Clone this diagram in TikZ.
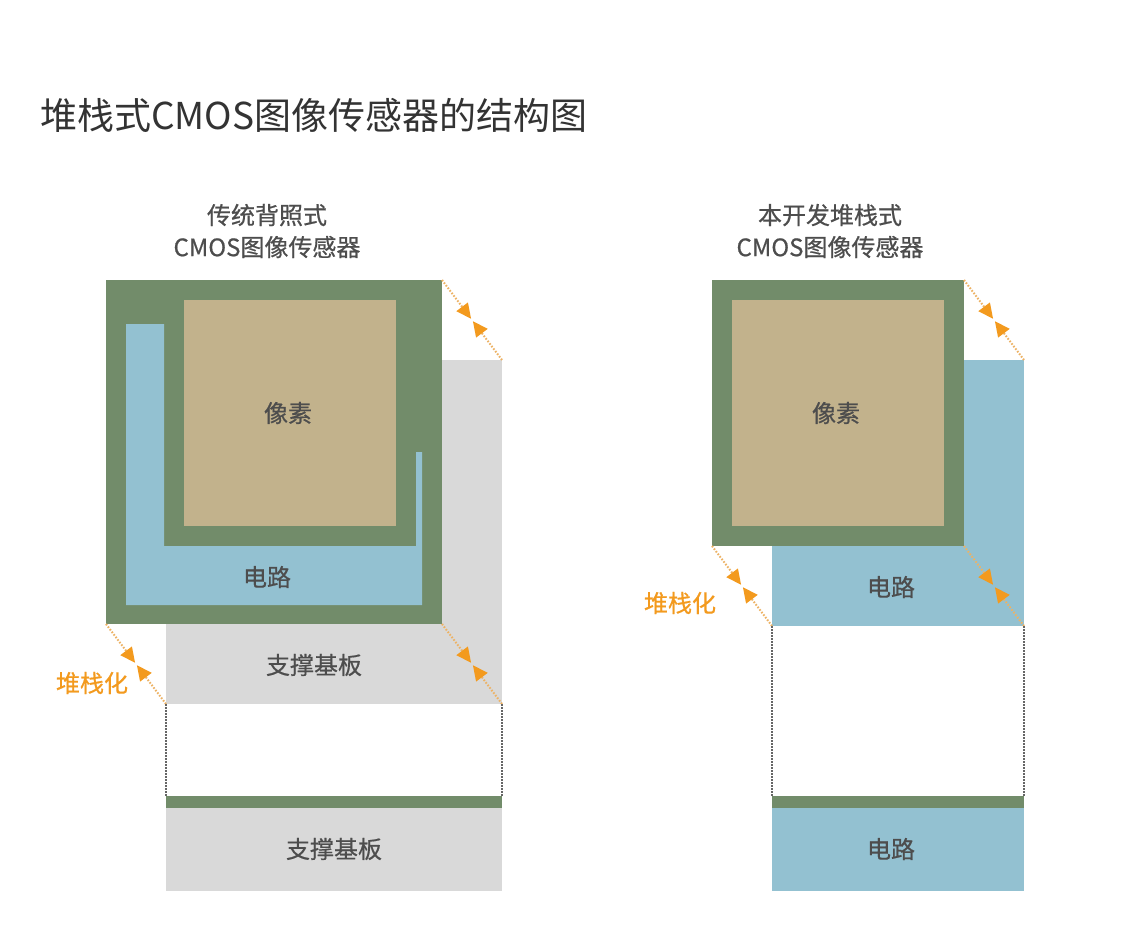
\documentclass[tikz,border=0pt]{standalone}
\usepackage{fontspec}
\setmainfont{Noto Sans CJK SC}
\newfontfamily\cjk{Noto Sans CJK SC}
\newfontfamily\cjkm{Noto Sans CJK SC}[FakeBold=0.6]
\usetikzlibrary{arrows.meta,calc}
\definecolor{cgreen}{HTML}{728C6A}
\definecolor{ctan}{HTML}{C2B28C}
\definecolor{cblue}{HTML}{93C1D1}
\definecolor{cgray}{HTML}{D9D9D9}
\definecolor{corange}{HTML}{F39A1E}
\definecolor{cline}{HTML}{EDB264}
\definecolor{ctext}{HTML}{4D4D4D}
\definecolor{ctitle}{HTML}{333333}
\definecolor{cdot}{HTML}{666666}
\tikzset{
  lbl/.style={font=\cjkm\fontsize{24}{28}\selectfont, text=ctext, inner sep=0pt},
  head/.style={font=\cjkm\fontsize{24}{32}\selectfont, text=ctext, align=center, inner sep=0pt},
  stk/.style={font=\cjkm\fontsize{24}{28}\selectfont, text=corange, inner sep=0pt},
  half/.style={draw=cline, line width=2pt, dash pattern=on 1.6pt off 1.6pt,
    -{Triangle[length=15pt,width=14pt,fill=corange,color=corange]}, shorten >=1.5pt},
  vdot/.style={draw=cdot, line width=2pt, dash pattern=on 1.5pt off 1.5pt},
}
\newcommand{\stackarrow}[2]{%
  \draw[half] (#1) -- ($(#1)!0.5!(#2)$);
  \draw[half] (#2) -- ($(#1)!0.5!(#2)$);}
\begin{document}
\begin{tikzpicture}[x=1pt,y=-1pt]
\useasboundingbox[fill=white] (0,0) rectangle (1144,936);
% title
\node[anchor=west, font=\cjk\fontsize{37}{42}\selectfont, text=ctitle, inner sep=0pt] (title) at (40,115) {堆栈式CMOS图像传感器的结构图};

% ===== left =====
\node[head] (hl) at (267,231) {传统背照式\\CMOS图像传感器};
\fill[cgray] (166,360) rectangle (502,704);
\fill[cgreen] (106,280) rectangle (442,624);
\fill[cblue] (126,324) -- (164,324) -- (164,546) -- (416,546) -- (416,452) -- (422,452) -- (422,605) -- (126,605) -- cycle;
\fill[ctan] (184,300) rectangle (396,526);
\node[lbl] (px1) at (288,413) {像素};
\node[lbl] (ci1) at (267,577) {电路};
\node[lbl] (sb1) at (314,665) {支撑基板};
\coordinate (l1a) at (442,280); \coordinate (l1b) at (502,360);
\coordinate (l2a) at (106,624); \coordinate (l2b) at (166,704);
\coordinate (l3a) at (442,624); \coordinate (l3b) at (502,704);
\stackarrow{l1a}{l1b}
\stackarrow{l2a}{l2b}
\stackarrow{l3a}{l3b}
\node[stk] (st1) at (92,683) {堆栈化};
\coordinate (ld1) at (166,796); \coordinate (ld2) at (502,796);
\draw[vdot] (l2b) -- (ld1);
\draw[vdot] (l3b) -- (ld2);
\fill[cgreen] (166,796) rectangle (502,808);
\fill[cgray] (166,808) rectangle (502,891);
\node[lbl] (sb2) at (334,849) {支撑基板};

% ===== right =====
\node[head] (hr) at (830,231) {本开发堆栈式\\CMOS图像传感器};
\fill[cblue] (772,360) rectangle (1024,626);
\fill[cgreen] (712,280) rectangle (964,546);
\fill[ctan] (732,300) rectangle (944,526);
\node[lbl] (px2) at (836,413) {像素};
\node[lbl] (ci2) at (891,587) {电路};
\coordinate (r1a) at (964,280); \coordinate (r1b) at (1024,360);
\coordinate (r2a) at (712,546); \coordinate (r2b) at (772,626);
\coordinate (r3a) at (964,546); \coordinate (r3b) at (1024,626);
\stackarrow{r1a}{r1b}
\stackarrow{r2a}{r2b}
\stackarrow{r3a}{r3b}
\node[stk] (st2) at (680,603) {堆栈化};
\coordinate (rd1) at (772,796); \coordinate (rd2) at (1024,796);
\draw[vdot] (r2b) -- (rd1);
\draw[vdot] (r3b) -- (rd2);
\fill[cgreen] (772,796) rectangle (1024,808);
\fill[cblue] (772,808) rectangle (1024,891);
\node[lbl] (ci3) at (891,849) {电路};
\end{tikzpicture}
\end{document}
